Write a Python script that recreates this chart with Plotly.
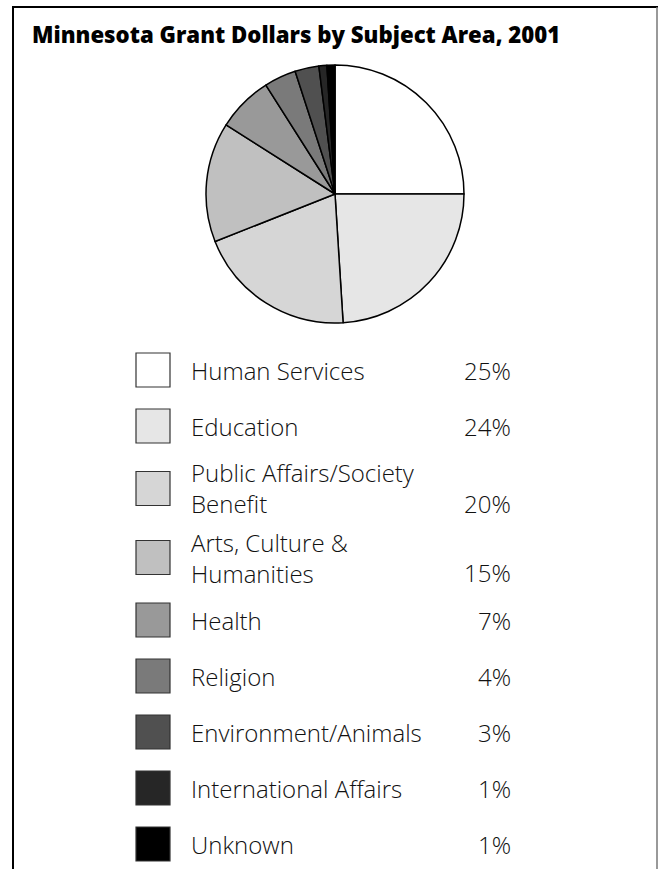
import plotly.graph_objects as go

# ---------------- data ----------------
categories = [
    "Human Services",
    "Education",
    "Public Affairs/Society<br>Benefit",
    "Arts, Culture &<br>Humanities",
    "Health",
    "Religion",
    "Environment/Animals",
    "International Affairs",
    "Unknown",
]
percent_values = [25, 24, 20, 15, 7, 4, 3, 1, 1]
slice_colors = ["#ffffff", "#e6e6e6", "#d6d6d6", "#c0c0c0", "#999999",
                "#7a7a7a", "#505050", "#262626", "#000000"]
title_text = "Minnesota Grant Dollars by Subject Area, 2001"

# ---------------- layout helpers ----------------
W, H = 668, 869


def px(x):
    return x / W


def py(y):
    return 1 - y / H


TEXT_FONT = "Open Sans"
TITLE_FONT = "Open Sans"

fig = go.Figure()
fig.add_trace(go.Pie(
    labels=[c.replace("<br>", " ") for c in categories],
    values=percent_values,
    marker=dict(colors=slice_colors, line=dict(color="#000000", width=1.5)),
    sort=False,
    direction="clockwise",
    rotation=0,
    textinfo="none",
    hoverinfo="skip",
    showlegend=False,
    domain=dict(x=[px(206), px(464)], y=[py(323), py(65)]),
))

shapes = []
annotations = []

# frame (open at the bottom)
frame = dict(color="#000000", width=2)
shapes.append(dict(type="line", xref="paper", yref="paper", x0=px(13), x1=px(13), y0=py(7), y1=py(H + 5), line=frame))
shapes.append(dict(type="line", xref="paper", yref="paper", x0=px(12), x1=px(658), y0=py(7), y1=py(7), line=frame))
shapes.append(dict(type="line", xref="paper", yref="paper", x0=px(657), x1=px(657), y0=py(7), y1=py(H + 5),
                   line=dict(color="#777777", width=1.5)))

annotations.append(dict(text=title_text, xref="paper", yref="paper",
                        x=px(30), y=py(35), xanchor="left", yanchor="middle", showarrow=False,
                        font=dict(family=TITLE_FONT, size=22.2, color="#000000", weight=800)))

# legend rows
row_y = []
y = 370.0
for i, cat in enumerate(categories):
    lines = cat.count("<br>") + 1
    if i > 0:
        prev_lines = categories[i - 1].count("<br>") + 1
        y += 56 + 6.5 * (prev_lines - 1) + 6.5 * (lines - 1)
    row_y.append(y)

LINE_H = 29
for cat, val, col, yc in zip(categories, percent_values, slice_colors, row_y):
    lines = cat.count("<br>") + 1
    shapes.append(dict(type="rect", xref="paper", yref="paper",
                       x0=px(136), x1=px(170), y0=py(yc + 17), y1=py(yc - 17),
                       fillcolor=col, line=dict(color="#333333", width=1.2)))
    annotations.append(dict(text=cat, xref="paper", yref="paper", x=px(189), y=py(yc),
                            xanchor="left", yanchor="middle", align="left", showarrow=False,
                            font=dict(family=TEXT_FONT, size=24, color="#111111", weight=300)))
    ylast = yc + (lines - 1) * LINE_H / 2
    annotations.append(dict(text=f"{val}%", xref="paper", yref="paper", x=px(513), y=py(ylast),
                            xanchor="right", yanchor="middle", showarrow=False,
                            font=dict(family=TEXT_FONT, size=24, color="#111111", weight=300)))

fig.update_layout(
    width=W, height=H,
    margin=dict(l=0, r=0, t=0, b=0),
    paper_bgcolor="#ffffff",
    plot_bgcolor="#ffffff",
    shapes=shapes,
    annotations=annotations,
)

fig.write_html("out.html", config={"displayModeBar": False},
               post_script="document.body.style.margin='0';document.body.style.overflow='hidden';")
